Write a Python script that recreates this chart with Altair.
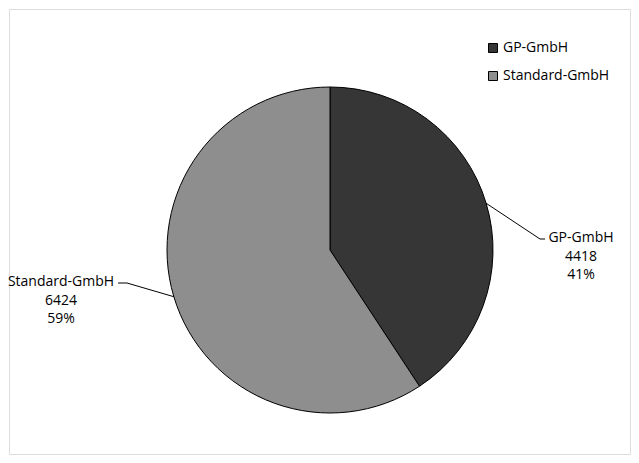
import altair as alt
import pandas as pd

# ---- data ----
categories = ["GP-GmbH", "Standard-GmbH"]
values = [4418, 6424]
percent_labels = ["41%", "59%"]
order = [0, 1]

# ---- layout / style (chart pixels) ----
CX, CY, R = 321, 241, 163
label_x = [572, 52]
label_y = [229, 273]
elbow_x = [531, 118]
elbow_y = [230, 274]
end_x = [536, 109]
LINE_H = 18.5
fills = ["#363636", "#8e8e8e"]
FONT = "Open Sans"
FS = 14

df = pd.DataFrame({
    "category": categories,
    "value": values,
    "pct": percent_labels,
    "order": order,
    "lx": label_x,
    "ly": label_y,
    "ex": elbow_x,
    "ey": elbow_y,
    "endx": end_x,
})

base = alt.Chart(df)

pie = base.mark_arc(radius=R, stroke="black", strokeWidth=1).encode(
    theta=alt.Theta("value:Q", stack=True),
    color=alt.Color(
        "category:N",
        scale=alt.Scale(domain=categories, range=fills),
        legend=alt.Legend(
            title=None,
            orient="none",
            legendX=477,
            legendY=32,
            padding=0,
            symbolType="square",
            symbolSize=81,
            symbolStrokeColor="black",
            symbolStrokeWidth=1,
            labelFont=FONT,
            labelFontSize=FS,
            labelColor="black",
            labelOffset=3,
            rowPadding=14,
        ),
    ),
    order=alt.Order("order:Q"),
    x=alt.value(CX),
    y=alt.value(CY),
)

geo = (
    base.transform_joinaggregate(total="sum(value)")
    .transform_window(cum="sum(value)", sort=[alt.SortField("order")])
    .transform_calculate(mid="(datum.cum - datum.value / 2) / datum.total * 2 * PI")
    .transform_calculate(
        sx=f"{CX} + {R} * sin(datum.mid)",
        sy=f"{CY} - {R} * cos(datum.mid)",
        vtxt="format(datum.value, 'd')",
    )
)

diag = geo.mark_rule(color="black", strokeWidth=1).encode(
    x=alt.X("sx:Q", scale=None, axis=None),
    y=alt.Y("sy:Q", scale=None, axis=None),
    x2="ex:Q",
    y2="ey:Q",
)
horiz = geo.mark_rule(color="black", strokeWidth=1).encode(
    x=alt.X("ex:Q", scale=None, axis=None),
    y=alt.Y("ey:Q", scale=None, axis=None),
    x2="endx:Q",
)

def text_layer(field, k):
    return geo.transform_calculate(ty=f"datum.ly + {k * LINE_H}").mark_text(
        font=FONT, fontSize=FS, color="black", align="center", baseline="middle"
    ).encode(
        x=alt.X("lx:Q", scale=None, axis=None),
        y=alt.Y("ty:Q", scale=None, axis=None),
        text=alt.Text(f"{field}:N"),
    )

chart = alt.layer(
    pie, diag, horiz,
    text_layer("category", 0), text_layer("vtxt", 1), text_layer("pct", 2),
).properties(
    width=621, height=445, padding=1,
    autosize=alt.AutoSizeParams(type="none"),
).configure_view(
    stroke="#bfbfbf", strokeWidth=1.5
).configure(background="white")

chart.save("out.html", embed_options={"renderer": "svg", "actions": False})
